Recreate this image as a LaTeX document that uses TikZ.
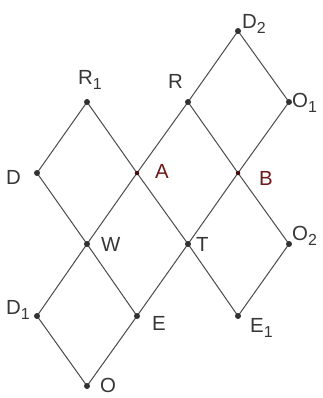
\documentclass[tikz,border=0pt]{standalone}
\usepackage{fontspec}
\setmainfont{Liberation Sans}
\definecolor{linec}{RGB}{75,75,75}
\definecolor{dotc}{RGB}{50,50,50}
\definecolor{labc}{RGB}{55,55,55}
\definecolor{redc}{RGB}{110,25,25}
\newcommand{\lsub}[1]{\raisebox{-5bp}{\fontsize{16}{16}\selectfont #1}}
\begin{document}
\begin{tikzpicture}[x=1bp,y=-1bp,
  seg/.style={draw=linec,line width=1bp},
  pt/.style={circle,fill=dotc,inner sep=0pt,minimum size=6bp},
  ptred/.style={circle,fill=redc!60!black,inner sep=0pt,minimum size=4.5bp},
  lab/.style={text=labc,font=\fontsize{20.5}{20}\selectfont,inner sep=0pt},
  labred/.style={text=redc,font=\fontsize{20.5}{20}\selectfont,inner sep=0pt}]
\useasboundingbox (0,0) rectangle (323,398);
% points
\coordinate (D2) at (238,31);
\coordinate (R1) at (87,102);
\coordinate (R) at (188,102);
\coordinate (O1) at (289,102);
\coordinate (D) at (37,173);
\coordinate (A) at (137,173);
\coordinate (B) at (238,173);
\coordinate (W) at (87,244);
\coordinate (T) at (188,244);
\coordinate (O2) at (289,244);
\coordinate (D1) at (37,316);
\coordinate (E) at (137,316);
\coordinate (E1) at (238,316);
\coordinate (O) at (87,386);
% segments
\draw[seg] (D) -- (R1);
\draw[seg] (R1) -- (A) -- (T) -- (E1);
\draw[seg] (D) -- (W) -- (E);
\draw[seg] (D1) -- (W) -- (A) -- (R) -- (D2);
\draw[seg] (D1) -- (O);
\draw[seg] (O) -- (E) -- (T) -- (B) -- (O1);
\draw[seg] (D2) -- (O1);
\draw[seg] (R) -- (B) -- (O2);
\draw[seg] (O2) -- (E1);
% dots
\foreach \p in {D2,R1,R,O1,D,W,T,O2,D1,E,E1,O}
  \node[pt] (dot\p) at (\p) {};
\node[ptred] (dotA) at (A) {};
\node[ptred] (dotB) at (B) {};
% labels
\node[lab,anchor=base west] (lD2) at (242,28) {D\lsub{2}};
\node[lab,anchor=base west] (lR1) at (78,84) {R\lsub{1}};
\node[lab,anchor=base west] (lR) at (168,88) {R};
\node[lab,anchor=base west] (lO1) at (292,107) {O\lsub{1}};
\node[lab,anchor=base west] (lD) at (6,184) {D};
\node[labred,anchor=base west] (lA) at (155,178) {A};
\node[labred,anchor=base west] (lB) at (259,185) {B};
\node[lab,anchor=base west] (lW) at (101,251) {W};
\node[lab,anchor=base west] (lT) at (196,251) {T};
\node[lab,anchor=base west] (lO2) at (292,240) {O\lsub{2}};
\node[lab,anchor=base west] (lD1) at (6,314) {D\lsub{1}};
\node[lab,anchor=base west] (lE) at (152,330) {E};
\node[lab,anchor=base west] (lE1) at (250,332) {E\lsub{1}};
\node[lab,anchor=base west] (lO) at (100,392) {O};
\end{tikzpicture}
\end{document}
